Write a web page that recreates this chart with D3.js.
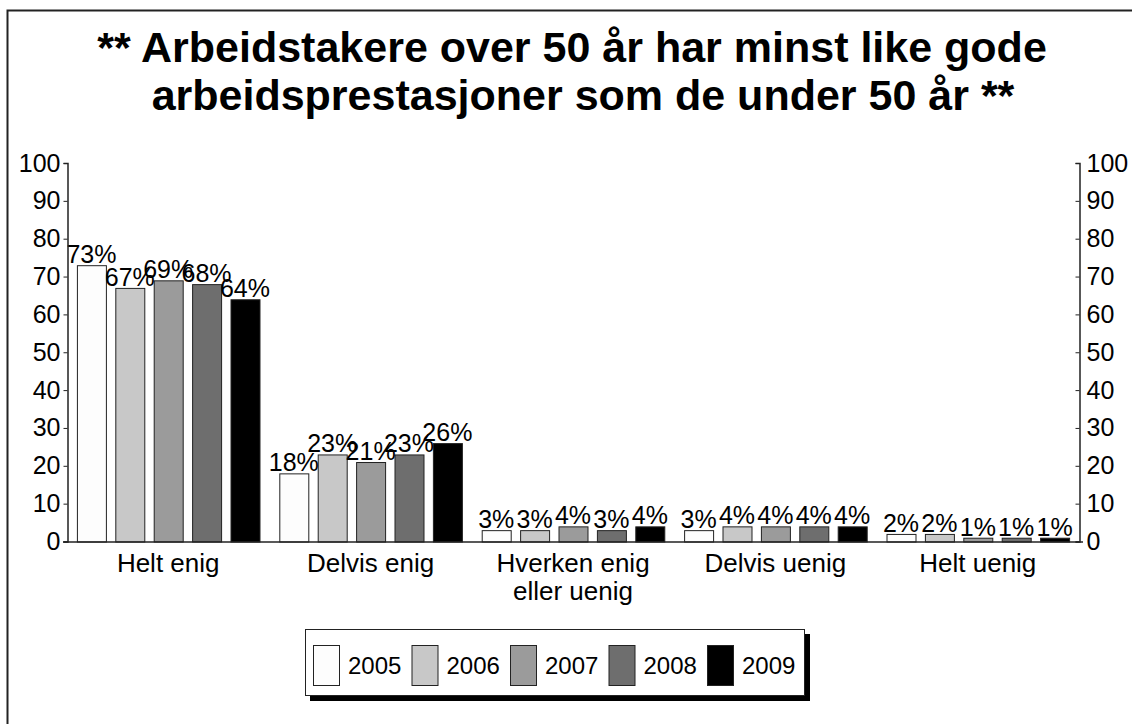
<!DOCTYPE html>
<html>
<head>
<meta charset="utf-8">
<script src="https://cdn.jsdelivr.net/npm/d3@7"></script>
<style>
  html, body { margin: 0; padding: 0; background: #fff; }
  svg { display: block; font-family: "Liberation Sans", Arial, sans-serif; }
</style>
</head>
<body>
<svg id="chart" width="1132" height="724"></svg>
<script>
// Answer categories (x axis), survey years (series) and shares in percent
const categories = ["Helt enig", "Delvis enig", "Hverken enig\neller uenig", "Delvis uenig", "Helt uenig"];
const years = ["2005", "2006", "2007", "2008", "2009"];
const v2005 = [73, 18, 3, 3, 2];
const v2006 = [67, 23, 3, 4, 2];
const v2007 = [69, 21, 4, 4, 1];
const v2008 = [68, 23, 3, 4, 1];
const v2009 = [64, 26, 4, 4, 1];
const yTicks = [0, 10, 20, 30, 40, 50, 60, 70, 80, 90, 100];
const titleLines = ["** Arbeidstakere over 50 år har minst like gode", "arbeidsprestasjoner som de under 50 år **"];

const seriesValues = [v2005, v2006, v2007, v2008, v2009];
const fills = ["#fdfdfd", "#c8c8c8", "#9b9b9b", "#6e6e6e", "#000000"];

const svg = d3.select("#chart");

// Outer frame (runs off the right and bottom edges)
svg.append("rect")
  .attr("x", 7.5).attr("y", 10.5)
  .attr("width", 1140).attr("height", 730)
  .attr("fill", "#fff").attr("stroke", "#222").attr("stroke-width", 2);

// Title
svg.append("g").selectAll("text").data(titleLines).join("text")
  .attr("x", (d, i) => i === 0 ? 572 : 583).attr("y", (d, i) => 62 + i * 48)
  .attr("text-anchor", "middle")
  .attr("font-weight", "bold").attr("font-size", 43)
  .attr("fill", "#000")
  .text(d => d);

const plot = { left: 67, right: 1079, top: 163, bottom: 541.5 };

const x0 = d3.scaleBand().domain(d3.range(categories.length))
  .range([plot.left, plot.right]).paddingInner(0).paddingOuter(0);
const x1 = d3.scaleBand().domain(d3.range(years.length))
  .range([0, x0.bandwidth()]).paddingInner(0.245).paddingOuter(0.258);
const y = d3.scaleLinear().domain([0, 100]).range([plot.bottom, plot.top]);

// Bars
const groups = svg.append("g").selectAll("g").data(categories).join("g")
  .attr("transform", (d, i) => `translate(${x0(i)},0)`);

groups.selectAll("rect")
  .data((d, ci) => years.map((yr, si) => ({ si, v: seriesValues[si][ci] })))
  .join("rect")
  .attr("x", d => x1(d.si) + 0.5)
  .attr("y", d => y(d.v) + 0.5)
  .attr("width", x1.bandwidth())
  .attr("height", d => y(0) - y(d.v))
  .attr("fill", d => fills[d.si])
  .attr("stroke", "#222").attr("stroke-width", 1);

// Value labels
groups.selectAll("text.val")
  .data((d, ci) => years.map((yr, si) => ({ si, v: seriesValues[si][ci] })))
  .join("text").attr("class", "val")
  .attr("x", d => x1(d.si) + x1.bandwidth() / 2)
  .attr("y", d => y(d.v) - 2)
  .attr("text-anchor", "middle")
  .attr("font-size", 25).attr("fill", "#000")
  .text(d => d.v + "%");

// Left and right value axes
const leftAxis = d3.axisLeft(y).tickValues(yTicks).tickSize(4).tickPadding(3);
const gl = svg.append("g").attr("transform", `translate(${plot.left + 0.5},0)`).call(leftAxis);
const rightAxis = d3.axisRight(y).tickValues(yTicks).tickSize(-4).tickPadding(7);
const gr = svg.append("g").attr("transform", `translate(${plot.right + 0.5},0)`).call(rightAxis);
[gl, gr].forEach(g => {
  g.select(".domain").attr("stroke", "#222").attr("stroke-width", 1.5);
  g.selectAll(".tick line").attr("stroke", "#222");
  g.selectAll(".tick text").attr("font-size", 25).attr("fill", "#000")
    .attr("font-family", "'Liberation Sans', Arial, sans-serif");
});

// Baseline
svg.append("line")
  .attr("x1", plot.left - 4).attr("x2", plot.right + 4)
  .attr("y1", plot.bottom + 0.5).attr("y2", plot.bottom + 0.5)
  .attr("stroke", "#222").attr("stroke-width", 1.5);

// Category labels
const catLabels = svg.append("g").selectAll("text").data(categories).join("text")
  .attr("x", (d, i) => x0(i) + x0.bandwidth() / 2)
  .attr("y", 572)
  .attr("text-anchor", "middle")
  .attr("font-size", 26).attr("fill", "#000");
catLabels.selectAll("tspan").data(d => d.split("\n")).join("tspan")
  .attr("x", function () { return this.parentNode.getAttribute("x"); })
  .attr("dy", (d, i) => i === 0 ? 0 : 28)
  .text(d => d);

// Legend with drop shadow
const legend = svg.append("g");
legend.append("rect").attr("x", 310).attr("y", 634).attr("width", 500).attr("height", 67).attr("fill", "#000");
legend.append("rect").attr("x", 305.5).attr("y", 629.5).attr("width", 499).attr("height", 66)
  .attr("fill", "#fff").attr("stroke", "#222").attr("stroke-width", 1);
const items = legend.selectAll("g.item").data(years).join("g").attr("class", "item")
  .attr("transform", (d, i) => `translate(${313 + i * 98.5},645)`);
items.append("rect").attr("x", 0.5).attr("y", 0.5).attr("width", 26).attr("height", 40)
  .attr("fill", (d, i) => fills[i]).attr("stroke", "#222");
items.append("text").attr("x", 35).attr("y", 29)
  .attr("font-size", 24).attr("fill", "#000").text(d => d);
</script>
</body>
</html>
